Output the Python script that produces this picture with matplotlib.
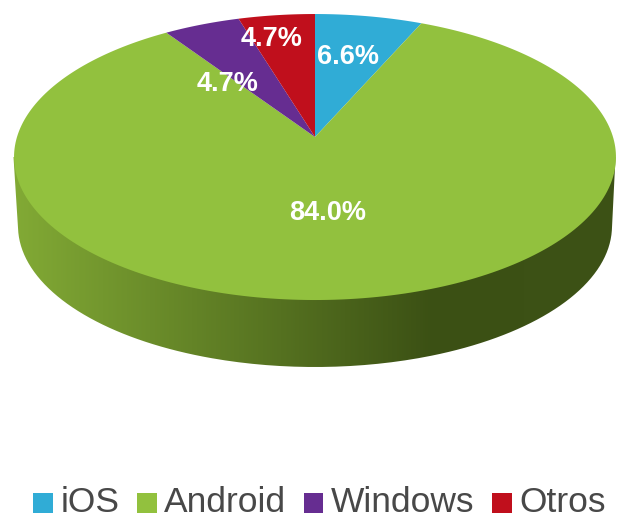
import numpy as np
import matplotlib
matplotlib.use("Agg")
import matplotlib.pyplot as plt
from matplotlib.colors import LinearSegmentedColormap
from matplotlib.path import Path
from matplotlib.patches import PathPatch
from matplotlib.transforms import Transform, Affine2D

# --- data ---
labels = ["iOS", "Android", "Windows", "Otros"]
values = [6.6, 84.0, 4.7, 4.7]
colors = ["#30acd6", "#92c13e", "#662d91", "#c00f1c"]

plt.rcParams["font.family"] = ["Liberation Sans", "DejaVu Sans"]


class Tilt(Transform):
    """Perspective view of the unit pie disc, in pixel coordinates."""
    input_dims = output_dims = 2
    is_affine = False
    has_inverse = False

    def __init__(self, cx, cy, a, b, k):
        super().__init__()
        self.p = (cx, cy, a, b, k)

    def transform_non_affine(self, values):
        cx, cy, a, b, k = self.p
        v = np.asarray(values, float)
        d = 1 + k * v[:, 1]
        return np.column_stack([cx + a * v[:, 0] / d, cy - b * v[:, 1] / d])

    def transform_path_non_affine(self, path):
        scale = Affine2D().scale(2000)
        polys = path.to_polygons(transform=scale, closed_only=True)
        verts = np.vstack(polys) / 2000
        return Path(self.transform_non_affine(verts), closed=True)


fig = plt.figure(figsize=(6.25, 5.2), dpi=100, facecolor="white")
ax = fig.add_axes([0, 0, 1, 1])

wedges, _, autotexts = ax.pie(
    values, colors=colors, startangle=90, counterclock=False,
    autopct="%.1f%%", wedgeprops=dict(linewidth=0),
    textprops=dict(color="white", fontsize=19.5, fontweight="bold"),
)
top = Tilt(315, 137, 298, 140.2, 0.14)
for w in wedges:
    w.set_transform(top + ax.transData)

for t, pos in zip(autotexts, [(347.5, 57), (327.5, 213), (227.5, 84), (271.5, 39.5)]):
    t.set_position(pos)
    t.set_ha("center")
    t.set_va("center")
    t.set_zorder(5)

# side wall of the disc, shaded left to right
t = np.linspace(0, np.pi, 200)
bx, by = 315 - 297 * np.cos(t), 226 + 141 * np.sin(t)
wall = np.column_stack([np.r_[13.5, bx, 615.5], np.r_[157, by, 157]])
clip = PathPatch(Path(wall, closed=False), transform=ax.transData,
                 fc="none", ec="none")
ax.add_patch(clip)
cmap = LinearSegmentedColormap.from_list(
    "wall", [(0, "#82aa35"), (0.70, "#3b5014"), (1, "#3d5216")])
img = ax.imshow(np.linspace(0, 1, 600)[None, :], cmap=cmap, aspect="auto",
                extent=(13, 616, 368, 150), zorder=0, interpolation="bilinear")
img.set_clip_path(clip)

ax.set_aspect("auto")
ax.set_xlim(0, 625)
ax.set_ylim(520, 0)
ax.axis("off")

leg = ax.legend(
    wedges, labels, ncol=4, frameon=False, fontsize=25.5, labelcolor="#484848",
    handlelength=0.56, handleheight=0.56, handletextpad=0.22,
    columnspacing=0.48, borderpad=0, borderaxespad=0,
    loc="center", bbox_to_anchor=(319.5 / 625, 1 - 502 / 520),
)
for h in leg.legend_handles:
    h.set_y(h.get_y() - 3 * 0.72)
    h.set_height(19.5 * 0.72)

fig.savefig("out.png", dpi=100, facecolor="white")
